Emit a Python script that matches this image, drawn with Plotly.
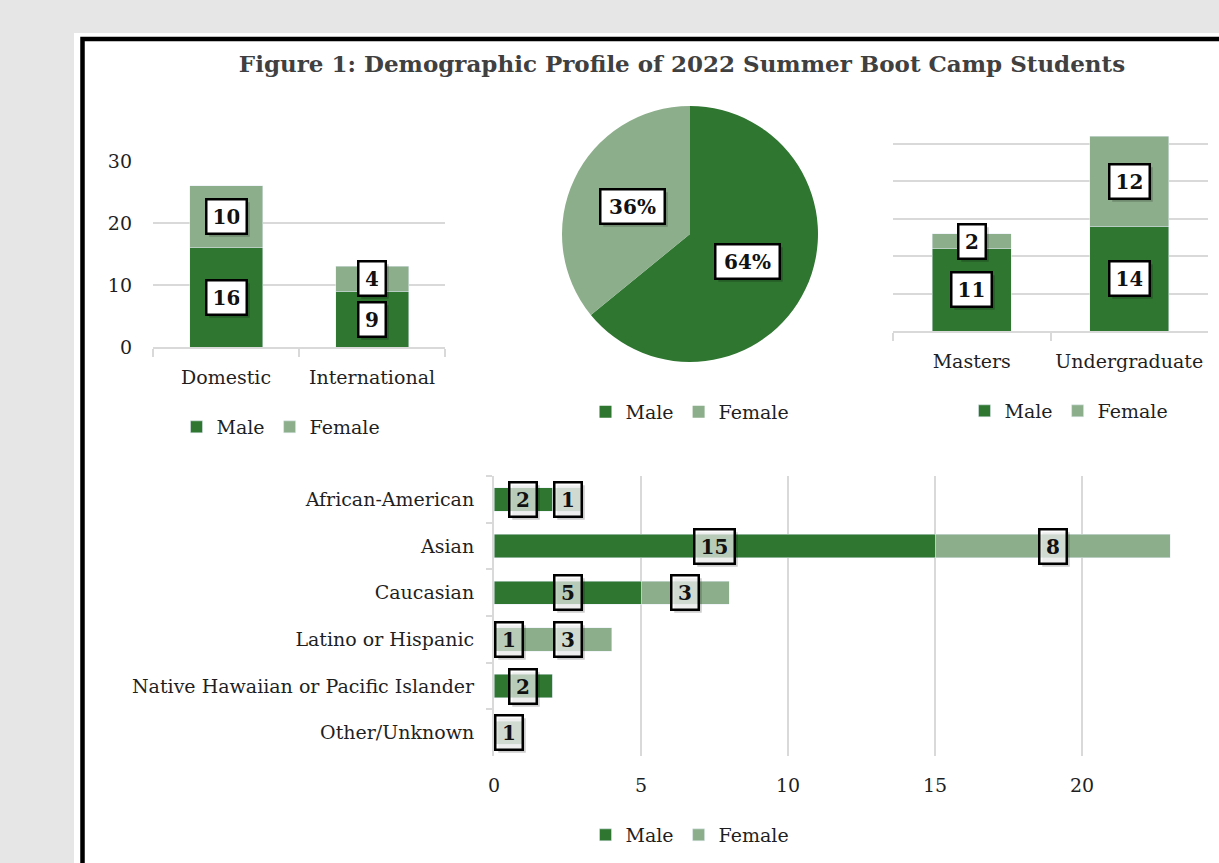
import math
import plotly.graph_objects as go

W, H = 1219, 863

# ---------------- data ----------------
residency = ["Domestic", "International"]
residency_male = [16, 9]
residency_female = [10, 4]

gender_labels = ["Male", "Female"]
gender_totals = [25, 14]
gender_pct_text = ["64%", "36%"]

program = ["Masters", "Undergraduate"]
program_male = [11, 14]
program_female = [2, 12]

ethnicity = ["African-American", "Asian", "Caucasian", "Latino or Hispanic",
             "Native Hawaiian or Pacific Islander", "Other/Unknown"]
ethnicity_male = [2, 15, 5, 1, 2, 0]
ethnicity_female = [1, 8, 3, 3, 0, 1]

# ---------------- style ----------------
DARK = "#2f7631"
LIGHT = "#8cae8b"
GRID = "#d9d9d9"
FONT = "DejaVu Serif"
TXT = "#1f1f1f"
FS = 19


def px_x(p):
    return p / W


def px_y(p):
    return 1 - p / H


fig = go.Figure()

# chart 1: residency
fig.add_trace(go.Bar(x=residency, y=residency_male, name="Male", marker_color=DARK,
                     xaxis="x", yaxis="y", legend="legend"))
fig.add_trace(go.Bar(x=residency, y=residency_female, name="Female", marker_color=LIGHT,
                     xaxis="x", yaxis="y", legend="legend"))

# chart 2: pie
pie_dom_x = [px_x(562), px_x(818)]
pie_dom_y = [px_y(362), px_y(106)]
fig.add_trace(go.Pie(labels=gender_labels, values=gender_totals, sort=False,
                     direction="clockwise", rotation=0, textinfo="none",
                     marker=dict(colors=[DARK, LIGHT], line=dict(width=0)),
                     domain=dict(x=pie_dom_x, y=pie_dom_y), legend="legend2",
                     hoverinfo="label+percent"))

# chart 3: program
fig.add_trace(go.Bar(x=program, y=program_male, name="Male", marker_color=DARK,
                     xaxis="x3", yaxis="y3", legend="legend3"))
fig.add_trace(go.Bar(x=program, y=program_female, name="Female", marker_color=LIGHT,
                     xaxis="x3", yaxis="y3", legend="legend3"))

# chart 4: ethnicity
fig.add_trace(go.Bar(y=ethnicity, x=ethnicity_male, name="Male", marker_color=DARK,
                     orientation="h", xaxis="x4", yaxis="y4", legend="legend4"))
fig.add_trace(go.Bar(y=ethnicity, x=ethnicity_female, name="Female", marker_color=LIGHT,
                     orientation="h", xaxis="x4", yaxis="y4", legend="legend4"))

annotations = []


def box_width(text):
    return sum(24 if ch == "%" else 13 for ch in text)


def label(text, x, y, xref, yref, bg="white"):
    common = dict(x=x, y=y, xref=xref, yref=yref, showarrow=False,
                  borderwidth=2.5, borderpad=6, xanchor="center", yanchor="middle",
                  width=box_width(text), height=20)
    # soft shadow (empty box, offset down-right)
    annotations.append(dict(text=" ", font=dict(family=FONT, size=20),
                            bgcolor="rgba(0,0,0,0.2)", bordercolor="rgba(0,0,0,0)",
                            xshift=3, yshift=-3, **common))
    annotations.append(dict(text="<b>%s</b>" % text,
                            font=dict(family=FONT, size=20, color="#111111"),
                            bgcolor=bg, bordercolor="#000000", **common))


def stacked_labels(cats, male, female, xref, yref, horizontal=False, bg="white"):
    for c, m, f in zip(cats, male, female):
        for base, v in ((0, m), (m, f)):
            if v <= 0:
                continue
            mid = base + v / 2
            if horizontal:
                label(str(v), mid, c, xref, yref, bg)
            else:
                label(str(v), c, mid, xref, yref, bg)


stacked_labels(residency, residency_male, residency_female, "x", "y")
stacked_labels(program, program_male, program_female, "x3", "y3")
stacked_labels(ethnicity, ethnicity_male, ethnicity_female, "x4", "y4",
               horizontal=True, bg="rgba(255,255,255,0.68)")

# pie labels at half radius along each slice's mid-angle
cx = (562 + 818) / 2
cy = (106 + 362) / 2
r = (818 - 562) / 2
total = sum(gender_totals)
start = 0.0
for v, t in zip(gender_totals, gender_pct_text):
    frac = v / total
    mid = (start + frac / 2) * 2 * math.pi
    lx = cx + 0.5 * r * math.sin(mid)
    ly = cy - 0.5 * r * math.cos(mid)
    label(t, px_x(lx), px_y(ly), "paper", "paper")
    start += frac

tickfont = dict(family=FONT, size=FS, color=TXT)
legfont = dict(family=FONT, size=19, color=TXT)

cat_x_axis = dict(showline=True, linecolor=GRID, linewidth=2, ticks="outside",
                  tickson="boundaries", ticklen=8, tickwidth=2, tickcolor=GRID,
                  showgrid=False, zeroline=False, tickfont=tickfont,
                  ticklabelstandoff=12, fixedrange=True, automargin=False)
val_y_axis = dict(range=[0, 30], showgrid=True, gridcolor=GRID, gridwidth=2,
                  zeroline=False, showline=False, tickfont=tickfont, fixedrange=True,
                  automargin=False)

legend_common = dict(orientation="h", xanchor="center", yanchor="middle",
                     font=legfont, bgcolor="rgba(0,0,0,0)", itemwidth=30,
                     traceorder="normal")

fig.update_layout(
    width=W, height=H,
    margin=dict(l=0, r=0, t=0, b=0, pad=0, autoexpand=False),
    paper_bgcolor="#e6e6e6",
    plot_bgcolor="rgba(0,0,0,0)",
    barmode="stack",
    bargap=0.5,
    font=dict(family=FONT, color=TXT),
    title=dict(text="<b>Figure 1: Demographic Profile of 2022 Summer Boot Camp Students</b>",
               x=px_x(682), y=px_y(64), xanchor="center", yanchor="middle",
               xref="paper", yref="paper",
               font=dict(family=FONT, size=23, color="#404040")),
    xaxis=dict(domain=[px_x(153), px_x(445)], anchor="y", **cat_x_axis),
    yaxis=dict(domain=[px_y(347), px_y(161)], anchor="x", dtick=10,
               ticklabelstandoff=20, **val_y_axis),
    xaxis3=dict(domain=[px_x(893), px_x(1208)], anchor="y3", **cat_x_axis),
    yaxis3=dict(domain=[px_y(331), px_y(106)], anchor="x3", dtick=5,
                showticklabels=False, **val_y_axis),
    xaxis4=dict(domain=[px_x(494), 1.0], anchor="y4", range=[0, 725 / 29.4],
                dtick=5, showgrid=True, gridcolor=GRID, gridwidth=2, zeroline=False,
                showline=False, tickfont=tickfont, ticklabelstandoff=16,
                fixedrange=True, automargin=False),
    yaxis4=dict(domain=[px_y(756), px_y(476)], anchor="x4", autorange="reversed",
                showline=True, linecolor=GRID, linewidth=2, ticks="outside",
                tickson="boundaries", ticklen=6, tickwidth=2, tickcolor=GRID,
                showgrid=False, zeroline=False, tickfont=tickfont,
                ticklabelstandoff=14, fixedrange=True, automargin=False),
    legend=dict(x=px_x(281), y=px_y(427), **legend_common),
    legend2=dict(x=px_x(690), y=px_y(412), **legend_common),
    legend3=dict(x=px_x(1069), y=px_y(411), **legend_common),
    legend4=dict(x=px_x(690), y=px_y(835), **legend_common),
    annotations=annotations,
    shapes=[
        dict(type="rect", xref="paper", yref="paper", x0=px_x(74), x1=1.02,
             y0=-0.02, y1=px_y(33), fillcolor="white", line=dict(width=0),
             layer="below"),
        dict(type="rect", xref="paper", yref="paper", x0=px_x(82.5), x1=1.02,
             y0=-0.02, y1=px_y(39), fillcolor="rgba(0,0,0,0)",
             line=dict(color="black", width=4.5), layer="below"),
    ],
)

fig.write_html("out.html", config={"displayModeBar": False},
               post_script="document.body.style.margin='0px';")
